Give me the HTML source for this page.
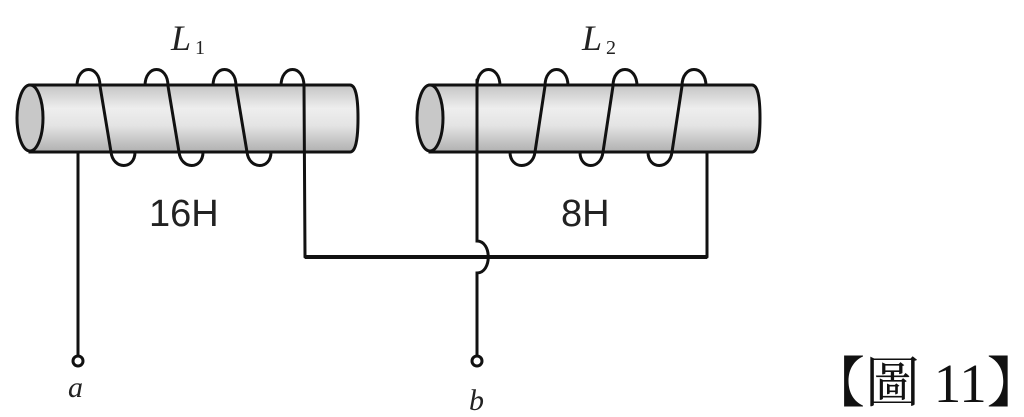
<!DOCTYPE html>
<html><head><meta charset="utf-8"><style>
html,body{margin:0;padding:0;background:#fff;width:1024px;height:417px;overflow:hidden}
</style></head><body>
<svg width="1024" height="417" viewBox="0 0 1024 417" xmlns="http://www.w3.org/2000/svg">
<defs>
<linearGradient id="g" x1="0" y1="0" x2="0" y2="1">
<stop offset="0" stop-color="#c4c4c4"/><stop offset="0.35" stop-color="#eeeeee"/><stop offset="0.6" stop-color="#e4e4e4"/><stop offset="1" stop-color="#b0b0b0"/>
</linearGradient>
</defs>
<g fill="none" stroke="#111" stroke-width="3" stroke-linecap="round">
<path d="M77,86 C77,64 100,64 100,86"/>
<path d="M145,86 C145,64 168,64 168,86"/>
<path d="M213,86 C213,64 236,64 236,86"/>
<path d="M281,86 C281,64 304,64 304,86"/>
<path d="M477,86 C477,64 500,64 500,86"/>
<path d="M545,86 C545,64 568,64 568,86"/>
<path d="M613,86 C613,64 637,64 637,86"/>
<path d="M682,86 C682,64 706,64 706,86"/>
</g>
<path d="M30,85 L350,85 Q358,85 358,118 Q358,152 350,152 L30,152 Z" fill="url(#g)" stroke="#111" stroke-width="3"/>
<ellipse cx="30" cy="118" rx="13" ry="33" fill="#c8c8c8" stroke="#111" stroke-width="3"/>
<path d="M430,85 L752,85 Q760,85 760,118 Q760,152 752,152 L430,152 Z" fill="url(#g)" stroke="#111" stroke-width="3"/>
<ellipse cx="430" cy="118" rx="13" ry="33" fill="#c8c8c8" stroke="#111" stroke-width="3"/>
<g fill="none" stroke="#111" stroke-width="3" stroke-linecap="round">
<path d="M100,86 L111,152 C113,170 135,170 135,152"/>
<path d="M168,86 L179,152 C181,170 203,170 203,152"/>
<path d="M236,86 L247,152 C249,170 271,170 271,152"/>
<path d="M304,86 L305,257"/>
<path d="M78,152 L78,356"/>
<path d="M510,152 C510,170 533,170 535,152 L545,86"/>
<path d="M580,152 C580,170 601,170 603,152 L613,86"/>
<path d="M648,152 C648,170 670,170 672,152 L682,86"/>
<path d="M477,80 L477,241 C492,241 492,273 477,273 L477,356"/>
<path d="M707,152 L707,257"/>
</g>
<path d="M305,257 L707,257" stroke="#111" stroke-width="4" fill="none"/>
<circle cx="78" cy="361" r="5" fill="#fff" stroke="#111" stroke-width="3"/>
<circle cx="477" cy="361" r="5" fill="#fff" stroke="#111" stroke-width="3"/>
<g font-family="Liberation Serif, serif" font-style="italic" fill="#222">
<text x="171" y="50" font-size="36">L</text><text x="195" y="54" font-size="20" font-style="normal">1</text>
<text x="582" y="50" font-size="36">L</text><text x="606" y="54" font-size="20" font-style="normal">2</text>
<text x="68" y="397" font-size="30">a</text>
<text x="469" y="410" font-size="30">b</text>
</g>
<g font-family="Liberation Sans, sans-serif" fill="#222" font-size="38">
<text x="149" y="226">16H</text>
<text x="561" y="226">8H</text>
</g>
<text x="810" y="402" font-family="Liberation Serif, 'Noto Serif CJK SC', serif" font-size="55" fill="#111">【圖 11】</text>
</svg>
</body></html>
